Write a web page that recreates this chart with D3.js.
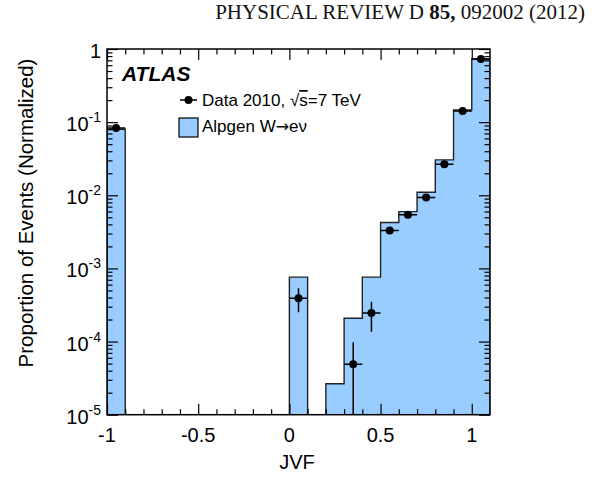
<!DOCTYPE html>
<html><head><meta charset="utf-8">
<script src="https://cdn.jsdelivr.net/npm/d3@7"></script>
<style>body{margin:0;background:#fff}svg{display:block}</style>
</head><body>
<svg id="c" width="600" height="485"></svg>
<script>
// ---- data ----
const binLow = [-1.0,-0.9,-0.8,-0.7,-0.6,-0.5,-0.4,-0.3,-0.2,-0.1,0.0,0.1,0.2,0.3,0.4,0.5,0.6,0.7,0.8,0.9,1.0];
const binWidth = 0.1;
const mcValues = [0.080,0,0,0,0,0,0,0,0,0,7.6e-4,0,2.65e-5,2.08e-4,7.6e-4,4.24e-3,5.98e-3,1.10e-2,3.05e-2,0.147,0.73];
const dataX = [-0.95,0.05,0.35,0.45,0.55,0.65,0.75,0.85,0.95,1.05];
const dataY = [0.083,3.9e-4,4.9e-5,2.46e-4,3.29e-3,5.4e-3,9.3e-3,0.0266,0.142,0.73];
const dataLo = [0.081,2.52e-4,1e-6,1.36e-4,3.1e-3,5.15e-3,8.95e-3,0.0260,0.140,0.725];
const dataHi = [0.085,5.36e-4,9.8e-5,3.5e-4,3.48e-3,5.65e-3,9.65e-3,0.0272,0.144,0.735];
const xTicksMajor = [-1,-0.5,0,0.5,1];
const xTickLabels = ["-1","-0.5","0","0.5","1"];
const yTicksMajor = [1e-5,1e-4,1e-3,1e-2,1e-1,1];
const yTickLabels = [["10","-5"],["10","-4"],["10","-3"],["10","-2"],["10","-1"],["1",""]];

// ---- layout ----
const L=107, R=490, T=49, B=414.7;
const svg = d3.select("#c");
const x = d3.scaleLinear().domain([-1,1.1]).range([L,R]);
const y = d3.scaleLog().domain([1e-5,1]).range([B,T]).clamp(true);
const fillC = "#99ccff";
const font = "'Liberation Sans', Arial, Helvetica, sans-serif";

// header
const hdr = svg.append("text").attr("x",585).attr("y",19).attr("text-anchor","end")
  .attr("font-family","'Liberation Serif','Times New Roman',serif").attr("font-size",21).attr("fill","#111");
hdr.append("tspan").text("PHYSICAL REVIEW D ");
hdr.append("tspan").attr("font-weight","bold").text("85,");
hdr.append("tspan").text(" 092002 (2012)");

svg.append("defs").append("clipPath").attr("id","pc").append("rect")
  .attr("x",L).attr("y",T).attr("width",R-L).attr("height",B-T);

// histogram
const pts = [[x(binLow[0]), B]];
binLow.forEach((lo,i)=>{
  const v = mcValues[i];
  const yy = v>0 ? y(v) : B;
  pts.push([x(lo), yy]);
  pts.push([x(lo+binWidth), yy]);
});
pts.push([x(binLow[binLow.length-1]+binWidth), B]);
svg.append("path").attr("d", d3.line()(pts)).attr("fill",fillC).attr("stroke","#222")
  .attr("stroke-width",1.4).attr("clip-path","url(#pc)");

// axes ticks (all four sides)
const xMinor = d3.range(-10,11).map(d=>d/10).filter(d=>!xTicksMajor.some(m=>Math.abs(m-d)<1e-9));
const yMinor = [];
for (let e=-5;e<0;e++) for (let k=2;k<=9;k++) yMinor.push(k*Math.pow(10,e));
function styleAxis(g){ g.select(".domain").remove(); g.selectAll("text").remove();
  g.selectAll("line").attr("stroke","#000").attr("stroke-width",1.2); }
svg.append("g").attr("transform",`translate(0,${B})`).call(d3.axisTop(x).tickValues(xTicksMajor).tickSize(11)).call(styleAxis);
svg.append("g").attr("transform",`translate(0,${B})`).call(d3.axisTop(x).tickValues(xMinor).tickSize(5.5)).call(styleAxis);
svg.append("g").attr("transform",`translate(0,${T})`).call(d3.axisBottom(x).tickValues(xTicksMajor).tickSize(11)).call(styleAxis);
svg.append("g").attr("transform",`translate(0,${T})`).call(d3.axisBottom(x).tickValues(xMinor).tickSize(5.5)).call(styleAxis);
svg.append("g").attr("transform",`translate(${L},0)`).call(d3.axisRight(y).tickValues(yTicksMajor).tickSize(11)).call(styleAxis);
svg.append("g").attr("transform",`translate(${L},0)`).call(d3.axisRight(y).tickValues(yMinor).tickSize(5.5)).call(styleAxis);
svg.append("g").attr("transform",`translate(${R},0)`).call(d3.axisLeft(y).tickValues(yTicksMajor).tickSize(11)).call(styleAxis);
svg.append("g").attr("transform",`translate(${R},0)`).call(d3.axisLeft(y).tickValues(yMinor).tickSize(5.5)).call(styleAxis);

// frame
svg.append("rect").attr("x",L).attr("y",T).attr("width",R-L).attr("height",B-T)
  .attr("fill","none").attr("stroke","#000").attr("stroke-width",1.5);

// tick labels
xTicksMajor.forEach((d,i)=>{
  svg.append("text").attr("x",x(d)).attr("y",442).attr("text-anchor","middle")
    .attr("font-family",font).attr("font-size",20).text(xTickLabels[i]);
});
yTicksMajor.forEach((d,i)=>{
  const t = svg.append("text").attr("x",101).attr("y",y(d)+9).attr("text-anchor","end")
    .attr("font-family",font).attr("font-size",20);
  t.append("tspan").text(yTickLabels[i][0]);
  if (yTickLabels[i][1]) t.append("tspan").attr("font-size",14).attr("dy",-9).text(yTickLabels[i][1]);
});

// axis titles
svg.append("text").attr("x",297).attr("y",469).attr("text-anchor","middle")
  .attr("font-family",font).attr("font-size",20).text("JVF");
svg.append("text").attr("transform","translate(33,213) rotate(-90)").attr("text-anchor","middle")
  .attr("font-family",font).attr("font-size",20.5).text("Proportion of Events (Normalized)");

// data points
const dg = svg.append("g").attr("clip-path","url(#pc)");
dataX.forEach((xv,i)=>{
  dg.append("line").attr("x1",x(xv-binWidth/2)).attr("x2",x(xv+binWidth/2))
    .attr("y1",y(dataY[i])).attr("y2",y(dataY[i])).attr("stroke","#000").attr("stroke-width",1.5);
  dg.append("line").attr("x1",x(xv)).attr("x2",x(xv))
    .attr("y1",y(dataLo[i])).attr("y2",y(dataHi[i])).attr("stroke","#000").attr("stroke-width",1.5);
  dg.append("circle").attr("cx",x(xv)).attr("cy",y(dataY[i])).attr("r",4).attr("fill","#000");
});

// ATLAS label
svg.append("text").attr("x",122).attr("y",81).attr("font-family",font).attr("font-size",21)
  .attr("font-weight","bold").attr("font-style","italic").text("ATLAS");

// legend
svg.append("line").attr("x1",180).attr("x2",197).attr("y1",100).attr("y2",100).attr("stroke","#000").attr("stroke-width",1.5);
svg.append("circle").attr("cx",188.5).attr("cy",100).attr("r",4).attr("fill","#000");
const lt = svg.append("text").attr("x",202).attr("y",106).attr("font-family",font).attr("font-size",17);
lt.append("tspan").text("Data 2010, √");
lt.append("tspan").attr("text-decoration","overline").text("s");
lt.append("tspan").text("=7 TeV");
svg.append("rect").attr("x",179).attr("y",118).attr("width",19).attr("height",19)
  .attr("fill",fillC).attr("stroke","#000").attr("stroke-width",1.2);
const lt2 = svg.append("text").attr("x",202).attr("y",132).attr("font-family",font).attr("font-size",17);
lt2.append("tspan").text("Alpgen W");
lt2.append("tspan").attr("font-family","'DejaVu Sans', sans-serif").attr("font-size",16).text("→");
lt2.append("tspan").text("eν");
</script>
</body></html>
